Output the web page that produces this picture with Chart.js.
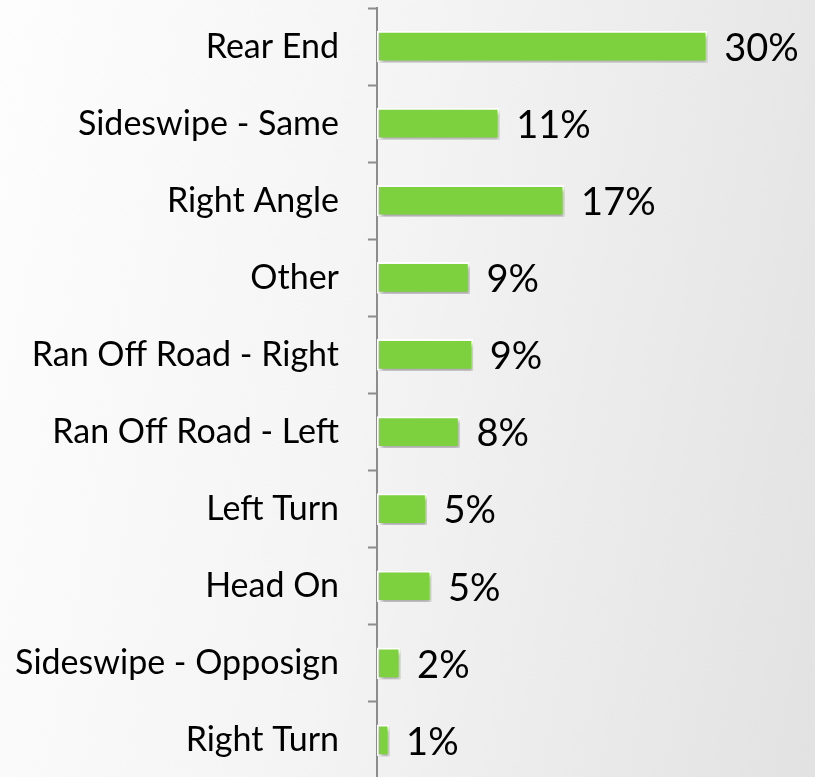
<!DOCTYPE html>
<html>
<head>
<meta charset="utf-8">
<script src="https://cdn.jsdelivr.net/npm/chart.js@4/dist/chart.umd.min.js"></script>
<style>
  html, body {
    margin: 0;
    padding: 0;
    overflow: hidden;
    width: 815px;
    height: 777px;
  }
  body {
    background: linear-gradient(100deg, #fdfdfd 0%, #f4f4f4 45%, #e2e2e2 100%);
  }
  canvas { display: block; }
</style>
</head>
<body>
<canvas id="chart" width="815" height="779"></canvas>
<script>
// crash types, top to bottom
const categories = [
  "Rear End",
  "Sideswipe - Same",
  "Right Angle",
  "Other",
  "Ran Off Road - Right",
  "Ran Off Road - Left",
  "Left Turn",
  "Head On",
  "Sideswipe - Opposign",
  "Right Turn",
];
// share of crashes (%)
const shares = [30, 11.1, 17, 8.4, 8.7, 7.5, 4.5, 4.9, 2.1, 1.1];
// printed labels next to the bars
const shareLabels = ["30%", "11%", "17%", "9%", "9%", "8%", "5%", "5%", "2%", "1%"];

const FONT = "Lato, 'Open Sans', sans-serif";

// soft drop shadow under the bars
const barShadow = {
  id: "barShadow",
  beforeDatasetsDraw(chart) {
    const ctx = chart.ctx;
    ctx.save();
    ctx.shadowColor = "rgba(0,0,0,0.35)";
    ctx.shadowBlur = 4;
    ctx.shadowOffsetX = 2;
    ctx.shadowOffsetY = 3;
  },
  afterDatasetsDraw(chart) {
    chart.ctx.restore();
  },
};

// percentage text to the right of each bar
const valueLabels = {
  id: "valueLabels",
  afterDraw(chart) {
    const ctx = chart.ctx;
    const meta = chart.getDatasetMeta(0);
    ctx.save();
    ctx.font = "38px " + FONT;
    ctx.fillStyle = "#000";
    ctx.textAlign = "left";
    ctx.textBaseline = "middle";
    meta.data.forEach((bar, i) => {
      ctx.fillText(shareLabels[i], bar.x + 17, bar.y + 2);
    });
    ctx.restore();
  },
};

new Chart(document.getElementById("chart"), {
  type: "bar",
  data: {
    labels: categories,
    datasets: [
      {
        data: shares,
        backgroundColor: "#7dd13e",
        borderColor: "#ffffff",
        borderWidth: 2,
        borderSkipped: false,
        barThickness: 31,
      },
    ],
  },
  options: {
    indexAxis: "y",
    responsive: false,
    animation: false,
    layout: { padding: { top: 8, right: 0, bottom: 0, left: 0 } },
    plugins: {
      legend: { display: false },
      tooltip: { enabled: false },
    },
    scales: {
      x: {
        display: false,
        min: 0,
        max: 39.8,
      },
      y: {
        afterFit(scale) {
          scale.width = 377;
          // labels sit between the ticks, so no extra room above/below
          scale.paddingTop = 0;
          scale.paddingBottom = 0;
        },
        grid: {
          drawOnChartArea: false,
          drawTicks: true,
          tickLength: 9,
          tickWidth: 2,
          tickColor: "#8c8c8c",
        },
        border: { color: "#8c8c8c", width: 2 },
        ticks: {
          color: "#000",
          padding: 29,
          font: { family: FONT, size: 34 },
        },
      },
    },
  },
  plugins: [barShadow, valueLabels],
});
</script>
</body>
</html>
